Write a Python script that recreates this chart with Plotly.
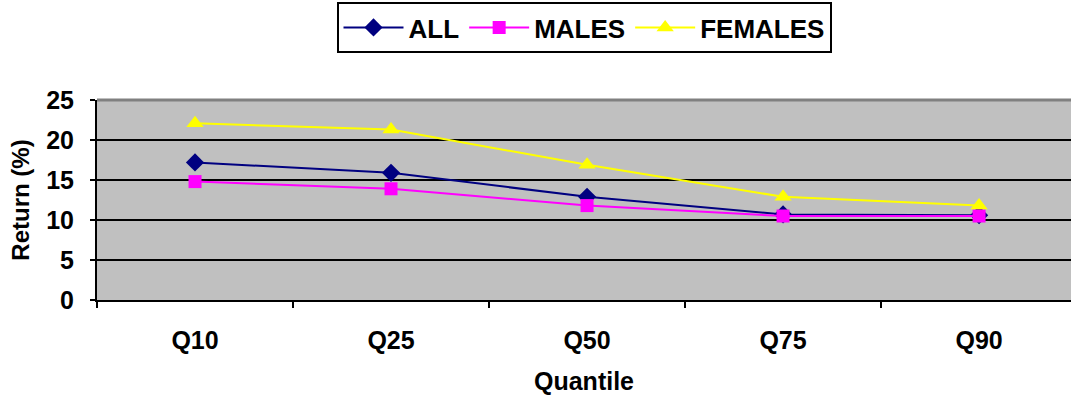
import plotly.graph_objects as go

quantiles = ["Q10", "Q25", "Q50", "Q75", "Q90"]
all_vals = [17.2, 15.9, 12.9, 10.7, 10.6]
males_vals = [14.8, 13.9, 11.8, 10.5, 10.5]
females_vals = [22.1, 21.3, 16.9, 12.9, 11.8]

FONT = "Liberation Sans, Arial, sans-serif"

fig = go.Figure()
fig.add_trace(go.Scatter(x=quantiles, y=all_vals, name="ALL", mode="lines+markers",
                         line=dict(color="#000080", width=2),
                         marker=dict(symbol="diamond", size=14, color="#000080")))
fig.add_trace(go.Scatter(x=quantiles, y=males_vals, name="MALES", mode="lines+markers",
                         line=dict(color="#FF00FF", width=2),
                         marker=dict(symbol="square", size=13, color="#FF00FF")))
fig.add_trace(go.Scatter(x=quantiles, y=females_vals, name="FEMALES", mode="lines+markers",
                         line=dict(color="#FFFF00", width=2),
                         marker=dict(symbol="triangle-up", size=15, color="#FFFF00")))

fig.update_layout(
    width=1071, height=402,
    margin=dict(l=97, r=0, t=100, b=102),
    paper_bgcolor="white", plot_bgcolor="#C0C0C0",
    font=dict(family=FONT, color="black", size=25),
    showlegend=True,
    legend=dict(orientation="h", xref="paper", x=0.5, xanchor="center",
                yref="container", y=0.995, yanchor="top",
                bordercolor="black", borderwidth=2, bgcolor="white",
                font=dict(family=FONT, size=26, color="black", weight="bold"),
                itemwidth=60),
)
fig.update_xaxes(type="category", range=[-0.5, 4.469], tickson="boundaries",
                 ticks="outside", ticklen=6, tickwidth=2, tickcolor="black",
                 showline=True, linecolor="black", linewidth=2, showgrid=False,
                 ticklabelstandoff=17,
                 tickfont=dict(family=FONT, size=25, weight="bold"),
                 title=dict(text="<b>Quantile</b>", font=dict(family=FONT, size=25), standoff=19))
fig.update_yaxes(range=[0, 25], dtick=5, ticks="outside", ticklen=5, tickwidth=2, tickcolor="black",
                 showline=True, linecolor="black", linewidth=2,
                 showgrid=True, gridcolor="black", gridwidth=2, zeroline=False,
                 ticklabelstandoff=11,
                 tickfont=dict(family=FONT, size=25, weight="bold"),
                 title=dict(text="<b>Return (%)</b>", font=dict(family=FONT, size=24), standoff=10))
fig.add_shape(type="line", xref="x domain", yref="y domain", x0=0, x1=1, y0=1, y1=1,
              line=dict(color="#808080", width=3), layer="above")

fig.write_html("out.html")
